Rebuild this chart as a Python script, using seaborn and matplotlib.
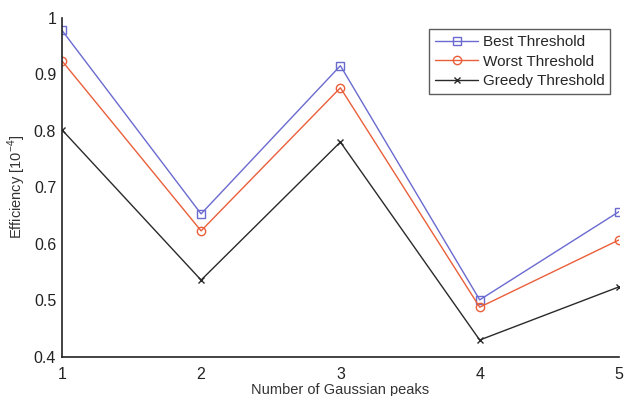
import matplotlib
matplotlib.use("Agg")
import matplotlib.pyplot as plt
import seaborn as sns
import pandas as pd

peaks = [1, 2, 3, 4, 5]
best = [0.978, 0.653, 0.915, 0.501, 0.657]
worst = [0.924, 0.623, 0.876, 0.488, 0.607]
greedy = [0.802, 0.536, 0.780, 0.430, 0.524]
series_names = ["Best Threshold", "Worst Threshold", "Greedy Threshold"]
xticks = [1, 2, 3, 4, 5]
yticks = [0.4, 0.5, 0.6, 0.7, 0.8, 0.9, 1.0]
yticklabels = ["0.4", "0.5", "0.6", "0.7", "0.8", "0.9", "1"]

sns.set_style("white")
plt.rcParams['font.family'] = ['Liberation Sans', 'DejaVu Sans']
plt.rcParams['mathtext.fontset'] = 'custom'
plt.rcParams['mathtext.rm'] = 'Liberation Sans'

df = pd.DataFrame({
    "x": peaks * 3,
    "y": best + worst + greedy,
    "s": [series_names[0]] * 5 + [series_names[1]] * 5 + [series_names[2]] * 5,
})

fig = plt.figure(figsize=(6.24, 3.96), dpi=100)
ax = fig.add_axes([0.099, 0.0985, 0.893, 0.857])

colors = {"Best Threshold": "#6a6ad0", "Worst Threshold": "#ea5f3a", "Greedy Threshold": "#2a2a2a"}
markers = {"Best Threshold": "s", "Worst Threshold": "o", "Greedy Threshold": "x"}
for name in series_names:
    sub = df[df.s == name]
    sns.lineplot(data=sub, x="x", y="y", ax=ax, color=colors[name], marker=markers[name],
                 markersize=6 if name != "Greedy Threshold" else 4, markerfacecolor="none",
                 markeredgecolor=colors[name], markeredgewidth=1.0, linewidth=1.0, label=name)

ax.set_xlim(1, 5)
ax.set_ylim(0.4, 1.0)
ax.set_xticks(xticks)
ax.set_yticks(yticks)
ax.set_yticklabels(yticklabels)
ax.tick_params(direction="in", length=5, width=1, labelsize=11.5, colors="#222222", pad=4)
ax.tick_params(axis="x", direction="inout", length=6)
for s in ["top", "right"]:
    ax.spines[s].set_visible(False)
for s in ["left", "bottom"]:
    ax.spines[s].set_color("#222222")
    ax.spines[s].set_linewidth(1.2)
ax.set_xlabel("Number of Gaussian peaks", fontsize=10.5, color="#333333", labelpad=1)
ax.set_ylabel(r"Efficiency [10$^{-4}$]", fontsize=10.5, color="#333333", labelpad=4)

leg = ax.legend(loc="upper right", bbox_to_anchor=(0.99, 0.975), fontsize=11, frameon=True,
                fancybox=False, edgecolor="#333333", handlelength=2.8, handletextpad=0.3,
                borderpad=0.4, labelspacing=0.35, borderaxespad=0.2)
leg.get_frame().set_linewidth(1.0)

fig.savefig("out.png", dpi=100)
